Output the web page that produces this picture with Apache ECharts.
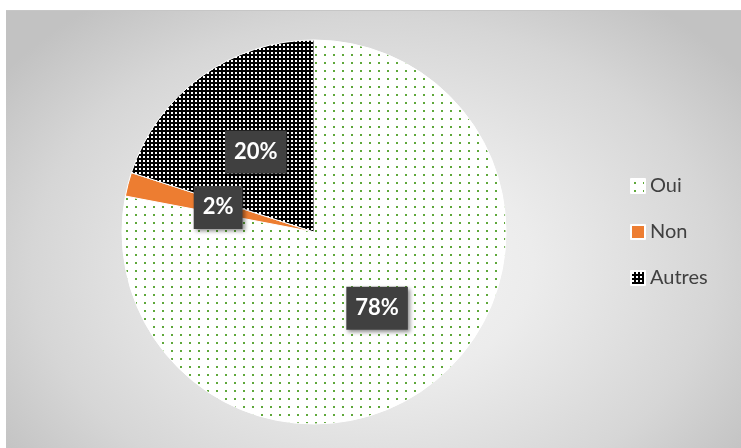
<!DOCTYPE html>
<html>
<head>
<meta charset="utf-8">
<script src="https://cdn.jsdelivr.net/npm/echarts@6/dist/echarts.min.js"></script>
<style>
html,body{margin:0;padding:0;background:#fff;}
#wrap{position:absolute;left:6px;top:10px;width:735px;height:438px;
 background:radial-gradient(ellipse 62% 75% at 50% 58%, #f6f6f6 0%, #ececec 35%, #d6d6d6 75%, #c2c2c2 100%);
 border-top:1px solid #c6c6c6;}
#chart{width:735px;height:438px;}
</style>
</head>
<body>
<div id="wrap"><div id="chart"></div></div>
<script>
const categories = ['Oui', 'Non', 'Autres'];
const values = [78, 2, 20];

function makePattern(kind) {
  const c = document.createElement('canvas');
  if (kind === 'oui') {
    c.width = 9; c.height = 8;
    const g = c.getContext('2d');
    g.fillStyle = '#ffffff'; g.fillRect(0, 0, 9, 8);
    g.fillStyle = '#5FA83A'; g.fillRect(3, 3, 2, 2);
  } else {
    c.width = 4; c.height = 4;
    const g = c.getContext('2d');
    g.fillStyle = '#000000'; g.fillRect(0, 0, 4, 4);
    g.fillStyle = '#ffffff'; g.fillRect(1, 1, 2, 2);
  }
  return { image: c, repeat: 'repeat' };
}
const colors = [makePattern('oui'), '#ED7D31', makePattern('autres')];

const chart = echarts.init(document.getElementById('chart'), null, { renderer: 'canvas' });
chart.setOption({
  animation: false,
  backgroundColor: 'transparent',
  legend: {
    orient: 'vertical',
    left: 619,
    top: 160,
    itemWidth: 14,
    itemHeight: 14,
    itemGap: 26,
    icon: 'rect',
    textStyle: { fontFamily: 'Lato', fontSize: 20, color: '#404040' },
    data: categories
  },
  series: [{
    type: 'pie',
    center: [308, 221],
    radius: [0, 192],
    startAngle: 90,
    clockwise: true,
    avoidLabelOverlap: false,
    itemStyle: { borderColor: '#ffffff', borderWidth: 1 },
    label: {
      show: true,
      position: 'inside',
      formatter: '{d}%',
      fontFamily: 'Lato',
      fontWeight: 'bold',
      fontSize: 22,
      color: '#ffffff',
      backgroundColor: '#404040',
      padding: [11, 9, 10, 9],
      shadowBlur: 4,
      shadowOffsetX: 2,
      shadowOffsetY: 2,
      shadowColor: 'rgba(0,0,0,0.45)'
    },
    labelLine: { show: false },
    data: categories.map((n, i) => ({ name: n, value: values[i], itemStyle: { color: colors[i] } }))
  }]
});
</script>
</body>
</html>
